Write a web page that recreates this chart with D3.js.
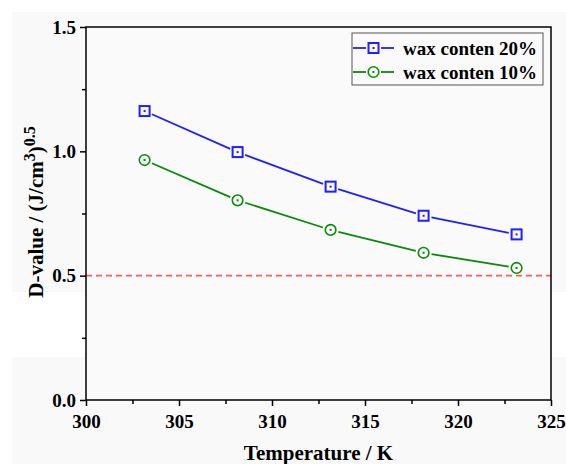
<!DOCTYPE html>
<html>
<head>
<meta charset="utf-8">
<script src="https://cdn.jsdelivr.net/npm/d3@7"></script>
<style>
  html, body { margin: 0; padding: 0; background: #fff; }
</style>
</head>
<body>
<svg id="chart" width="566" height="464"></svg>
<script>
const temperatures = [303.15, 308.15, 313.15, 318.15, 323.15];
const wax20 = [1.162, 0.997, 0.858, 0.741, 0.666];
const wax10 = [0.965, 0.803, 0.684, 0.592, 0.531];
const threshold = 0.5;

const xTicks = [300, 305, 310, 315, 320, 325];
const yTicks = [0.0, 0.5, 1.0, 1.5];

const series = [
  { name: "wax conten 20%", values: wax20, color: "#1f1fff", marker: "square" },
  { name: "wax conten 10%", values: wax10, color: "#0a8a0a", marker: "circle" },
];

const FONT = "'Liberation Serif', 'Times New Roman', serif";

const width = 566;
const height = 464;
const margin = { left: 86, right: 15, top: 27, bottom: 64 };

const svg = d3.select("#chart");

// page background (light grey with a pale band, as in the source)
svg.append("rect").attr("x", 12).attr("y", 12)
  .attr("width", width - 12).attr("height", height - 12).attr("fill", "#f9f9f9");
svg.append("rect").attr("x", 12).attr("y", 292)
  .attr("width", width - 12).attr("height", 65).attr("fill", "#ffffff");

const x = d3.scaleLinear().domain([300, 325]).range([margin.left, width - margin.right]);
const y = d3.scaleLinear().domain([0, 1.5]).range([height - margin.bottom, margin.top]);

const plotW = x.range()[1] - x.range()[0];
const plotH = y.range()[0] - y.range()[1];

svg.append("rect")
  .attr("x", margin.left).attr("y", margin.top)
  .attr("width", plotW).attr("height", plotH)
  .attr("fill", "#fafafa");

// threshold line
svg.append("line")
  .attr("x1", x(300)).attr("x2", x(325))
  .attr("y1", y(threshold)).attr("y2", y(threshold))
  .attr("stroke", "#ff5c5c").attr("stroke-width", 1.8)
  .attr("stroke-dasharray", "6,4");

// axes
const xAxis = svg.append("g")
  .attr("transform", `translate(0,${y(0)})`)
  .call(d3.axisBottom(x).tickValues(xTicks).tickSize(6).tickPadding(6).tickFormat(d3.format("d")));

const xMinor = svg.append("g")
  .attr("transform", `translate(0,${y(0)})`)
  .call(d3.axisBottom(x).tickValues(d3.range(302.5, 325, 5)).tickSize(4).tickFormat(""));

const yAxis = svg.append("g")
  .attr("transform", `translate(${x(300)},0)`)
  .call(d3.axisLeft(y).tickValues(yTicks).tickSize(6).tickPadding(4).tickFormat(d3.format(".1f")));

const yMinor = svg.append("g")
  .attr("transform", `translate(${x(300)},0)`)
  .call(d3.axisLeft(y).tickValues([0.25, 0.75, 1.25]).tickSize(4).tickFormat(""));

[xAxis, xMinor, yAxis, yMinor].forEach((g) => {
  g.select(".domain").remove();
  g.selectAll("line").attr("stroke", "#000").attr("stroke-width", 1.5);
  g.selectAll("text")
    .attr("fill", "#000")
    .style("font-family", FONT)
    .style("font-weight", "bold")
    .style("font-size", "19px");
});
xAxis.selectAll("text").attr("dy", "0.85em");

// frame
svg.append("rect")
  .attr("x", margin.left).attr("y", margin.top)
  .attr("width", plotW).attr("height", plotH)
  .attr("fill", "none").attr("stroke", "#000").attr("stroke-width", 1.5);

// series: segments with a small gap near each marker
const gap = 8;

series.forEach((s) => {
  const pts = temperatures.map((t, i) => [x(t), y(s.values[i])]);
  const g = svg.append("g");

  d3.pairs(pts).forEach(([a, b]) => {
    const dx = b[0] - a[0], dy = b[1] - a[1];
    const len = Math.hypot(dx, dy);
    const ux = dx / len, uy = dy / len;
    g.append("line")
      .attr("x1", a[0] + ux * gap).attr("y1", a[1] + uy * gap)
      .attr("x2", b[0] - ux * gap).attr("y2", b[1] - uy * gap)
      .attr("stroke", s.color).attr("stroke-width", 1.8);
  });

  pts.forEach((p) => drawMarker(g, s, p[0], p[1]));
});

function drawMarker(g, s, cx, cy) {
  if (s.marker === "square") {
    g.append("rect")
      .attr("x", cx - 5).attr("y", cy - 5)
      .attr("width", 10).attr("height", 10)
      .attr("fill", "none").attr("stroke", s.color).attr("stroke-width", 2);
  } else {
    g.append("circle")
      .attr("cx", cx).attr("cy", cy).attr("r", 5.3)
      .attr("fill", "none").attr("stroke", s.color).attr("stroke-width", 1.6);
  }
  g.append("rect")
    .attr("x", cx - 1).attr("y", cy - 1)
    .attr("width", 2).attr("height", 2)
    .attr("fill", s.color);
}

function label(sel, size) {
  return sel.attr("fill", "#000")
    .style("font-family", FONT)
    .style("font-weight", "bold")
    .style("font-size", `${size}px`);
}

// legend
const legend = svg.append("g");
legend.append("rect")
  .attr("x", 352).attr("y", 33).attr("width", 191).attr("height", 52)
  .attr("fill", "#fafafa").attr("stroke", "#555").attr("stroke-width", 1);

series.forEach((s, i) => {
  const ly = 48 + i * 24;
  legend.append("line")
    .attr("x1", 353).attr("x2", 366).attr("y1", ly).attr("y2", ly)
    .attr("stroke", s.color).attr("stroke-width", 1.8);
  legend.append("line")
    .attr("x1", 381).attr("x2", 394).attr("y1", ly).attr("y2", ly)
    .attr("stroke", s.color).attr("stroke-width", 1.8);
  drawMarker(legend, s, 373.5, ly);
  label(legend.append("text"), 19)
    .attr("x", 403).attr("y", ly)
    .attr("dy", "0.35em")
    .text(s.name);
});

// axis titles
label(svg.append("text"), 21)
  .attr("x", x(312.5)).attr("y", 460)
  .attr("text-anchor", "middle")
  .text("Temperature / K");

const yTitle = label(svg.append("text"), 21)
  .attr("transform", `translate(43,${212}) rotate(-90)`)
  .attr("text-anchor", "middle");
yTitle.append("tspan").text("D-value / (J/cm");
yTitle.append("tspan").style("font-size", "16px").attr("dy", -8).text("3");
yTitle.append("tspan").attr("dy", 8).text(")");
yTitle.append("tspan").style("font-size", "16px").attr("dy", -8).text("0.5");
</script>
</body>
</html>
